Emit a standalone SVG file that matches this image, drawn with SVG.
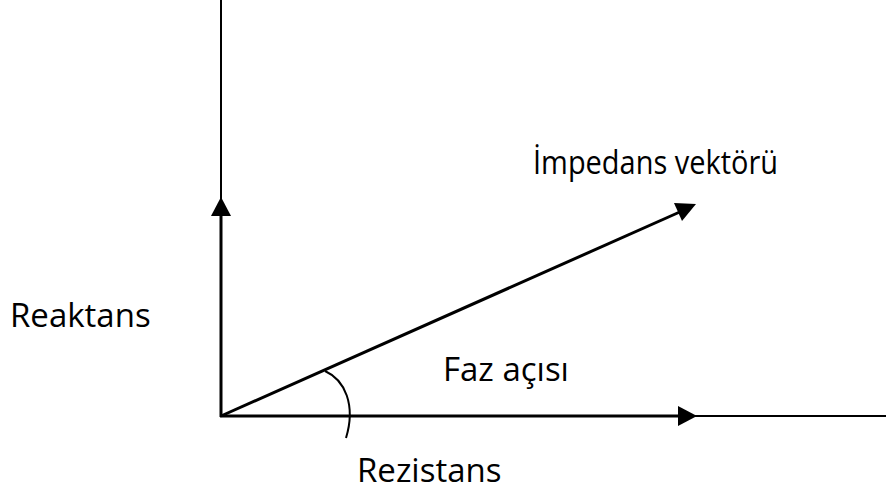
<svg xmlns="http://www.w3.org/2000/svg" width="886" height="502" viewBox="0 0 886 502">
<style>
.lbl{font-family:"Open Sans","Liberation Sans",sans-serif;font-size:33px;fill:#000}
.thin{stroke:#000;stroke-width:2;fill:none}
.thick{stroke:#000;stroke-width:3;fill:none}
</style>
<rect width="886" height="502" fill="#fff"/>
<g id="connectors">
<line class="thin" x1="221" y1="0" x2="221" y2="416"/>
<line class="thin" x1="221" y1="416" x2="886" y2="416"/>
<line class="thick" x1="221" y1="417" x2="221" y2="212"/>
<polygon points="221,197 211,216 231,216" fill="#000"/>
<line class="thick" x1="220" y1="416" x2="682" y2="416"/>
<polygon points="697,416 678,406 678,426" fill="#000"/>
<line class="thick" x1="221" y1="416" x2="682" y2="211"/>
<polygon points="696,204 674,203 682,221" fill="#000"/>
<path class="thin" d="M 325 371 C 345 380, 356 405, 346 438"/>
</g>
<g id="reaktans"><text class="lbl" x="10" y="327">Reaktans</text></g>
<g id="impedans"><text class="lbl" x="533" y="174" textLength="245" lengthAdjust="spacingAndGlyphs">İmpedans vektörü</text></g>
<g id="faz"><text class="lbl" x="443" y="381">Faz açısı</text></g>
<g id="rezistans"><text class="lbl" x="357" y="482">Rezistans</text></g>
</svg>
